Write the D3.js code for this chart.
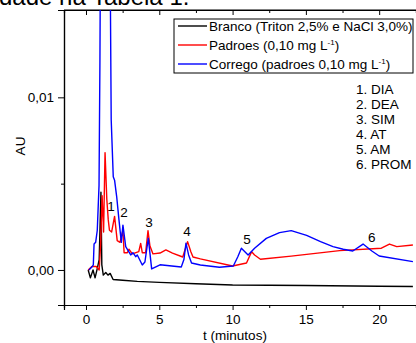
<!DOCTYPE html>
<html>
<head>
<meta charset="utf-8">
<script src="https://cdn.jsdelivr.net/npm/d3@7"></script>
<style>
  body { margin: 0; background: #fff; }
  svg { display: block; font-family: 'Liberation Sans', Arial, sans-serif; }
</style>
</head>
<body>
<div id="chart"></div>
<script>
// series: [t (min), AU]
const branco = [
  [0.15, 0.0], [0.3, -0.00046], [0.48, 0.0], [0.62, -0.00046], [0.78, 0.00012],
  [0.9, 0.0006], [1.02, 0.0045], [1.08, 0.0003], [1.18, -0.0003], [1.35, -0.00015],
  [1.5, -0.0003], [1.65, -0.0002], [1.85, -0.00055], [2.5, -0.0006], [3.5, -0.00066],
  [5, -0.00072], [7.5, -0.0008], [10, -0.00087], [15, -0.0009], [20, -0.00094], [22.3, -0.00096]
]
const padroes = [
  [0.15, 0.0], [0.4, 0.0002], [0.7, 0.0002], [0.9, 0.0], [1.0, 0.0015], [1.1, 0.0043],
  [1.2, 0.0022], [1.3, 0.0068], [1.42, 0.0041], [1.52, 0.0029], [1.6, 0.0023],
  [1.75, 0.0022], [1.95, 0.0031], [2.13, 0.0017], [2.32, 0.0016], [2.52, 0.0023],
  [2.6, 0.001], [2.82, 0.001], [2.93, 0.0012], [3.16, 0.00093], [3.6, 0.00106],
  [3.73, 0.00154], [3.84, 0.001], [4.07, 0.001], [4.23, 0.00228], [4.36, 0.0014],
  [4.57, 0.00093], [5.05, 0.00098], [5.45, 0.00116], [5.9, 0.00098], [6.6, 0.00075],
  [6.75, 0.00116], [6.93, 0.00164], [7.16, 0.00104], [7.3, 0.00075], [7.8, 0.00064],
  [10, 0.00023], [10.95, 0.0004], [11.3, 0.00106], [11.5, 0.00087], [11.9, 0.00062],
  [14, 0.0008], [17.3, 0.00112], [20.15, 0.00126], [20.7, 0.0015], [21.2, 0.00135],
  [22.3, 0.00145]
]
const corrego = [
  [0.2, 0.0], [0.43, 0.0002], [0.5, 0.0003], [0.55, 0.0015], [0.66, 0.0016],
  [0.77, 0.0023], [0.89, 0.0049], [0.95, 0.012], [1.05, 0.03], [1.55, 0.03],
  [1.72, 0.0087], [1.86, 0.0054], [1.95, 0.0052], [2.1, 0.0042], [2.25, 0.0029],
  [2.41, 0.0016], [2.52, 0.0026], [2.71, 0.00135], [3.05, 0.00087], [3.2, 0.001],
  [3.39, 0.00077], [3.5, 0.00087], [3.84, 0.00029], [4.02, 0.00046], [4.25, 0.00184],
  [4.48, 0.00006], [5.05, 0.0003], [6.5, 0.00017], [6.68, 0.0006], [6.82, 0.00155],
  [7.0, 0.00087], [7.2, 0.0004], [7.8, 0.00029], [9.1, 0.00016], [10.05, 0.00023],
  [10.35, 0.00075], [10.6, 0.00126], [11.06, 0.00087], [11.5, 0.00126], [12.3, 0.00183],
  [13.2, 0.00216], [14.0, 0.00228], [15.05, 0.002], [16.0, 0.00164], [16.85, 0.00135],
  [17.55, 0.0012], [18.2, 0.0011], [18.9, 0.0015], [19.5, 0.0011], [20.0, 0.00081],
  [22.3, 0.00048]
]

const legendNames = ['Branco (Triton 2,5% e NaCl 3,0%)', 'Padroes (0,10 mg L', 'Corrego (padroes 0,10 mg L']
const colors = ['#000000', '#ff0000', '#0000ff']
const compounds = ['1. DIA', '2. DEA', '3. SIM', '4. AT', '5. AM', '6. PROM']
const peakLabels = [
  { t: 1.7, au: 0.00342, label: '1' },
  { t: 2.6, au: 0.00307, label: '2' },
  { t: 4.3, au: 0.00249, label: '3' },
  { t: 6.89, au: 0.00197, label: '4' },
  { t: 10.98, au: 0.0015, label: '5' },
  { t: 19.5, au: 0.00162, label: '6' },
]
const xTicks = [0, 5, 10, 15, 20]
const yTicks = [0, 0.01]

const W = 416
const H = 343
const margin = { top: 10, right: -1, bottom: 38, left: 64 }
const fs = 13.5

const svg = d3.select('#chart').append('svg').attr('width', W).attr('height', H)

// partial heading from the page above the figure
svg.append('text').attr('x', -1).attr('y', 5).attr('font-size', 24).text('dade na Tabela 1.')

const xScale = d3.scaleLinear().domain([-1.5, 22.58]).range([margin.left, W - margin.right])
const yScale = d3.scaleLinear().domain([-0.00203, 0.01506]).range([H - margin.bottom, margin.top])

const fmt = (d) => d3.format('.2f')(d).replace('.', ',')

// axes
const xAxis = svg.append('g').attr('transform', `translate(0,${H - margin.bottom})`)
  .call(d3.axisBottom(xScale).tickValues(xTicks).tickSize(5).tickPadding(4).tickFormat(d3.format('d')))
xAxis.append('g').call(d3.axisBottom(xScale).tickValues(d3.range(2.5, 23, 5)).tickSize(3).tickFormat(''))

const xTop = svg.append('g').attr('transform', `translate(0,${margin.top})`)
  .call(d3.axisBottom(xScale).tickValues(xTicks).tickSize(5).tickFormat(''))
xTop.append('g').call(d3.axisBottom(xScale).tickValues(d3.range(2.5, 23, 5)).tickSize(3).tickFormat(''))

const yAxis = svg.append('g').attr('transform', `translate(${margin.left},0)`)
  .call(d3.axisLeft(yScale).tickValues(yTicks).tickSize(6).tickPadding(4).tickFormat(fmt))
yAxis.append('g').call(d3.axisLeft(yScale).tickValues([0.005]).tickSize(3).tickFormat(''))

svg.selectAll('.domain').attr('stroke', '#000').attr('stroke-width', 1.2)
svg.selectAll('.tick line').attr('stroke', '#000')
svg.selectAll('.tick text').attr('font-size', fs).attr('fill', '#000')
  .attr('font-family', "'Liberation Sans', Arial, sans-serif")
xTop.select('.domain').attr('d', `M${margin.left},0H${W}`)

// axis titles
svg.append('text').attr('x', 235).attr('y', 340).attr('text-anchor', 'middle')
  .attr('font-size', fs).text('t (minutos)')
svg.append('text').attr('transform', 'translate(25,146) rotate(-90)')
  .attr('text-anchor', 'middle').attr('font-size', fs).text('AU')

// lines
svg.append('clipPath').attr('id', 'clip').append('rect')
  .attr('x', margin.left).attr('y', margin.top)
  .attr('width', W - margin.left).attr('height', H - margin.bottom - margin.top)

const line = d3.line().x((d) => xScale(d[0])).y((d) => yScale(d[1]))
const plot = svg.append('g').attr('clip-path', 'url(#clip)')
;[branco, padroes, corrego].forEach((s, i) => {
  plot.append('path').datum(s).attr('fill', 'none').attr('stroke', colors[i])
    .attr('stroke-width', 1.4).attr('stroke-linejoin', 'round').attr('d', line)
})

// peak numbers
peakLabels.forEach(({ t, au, label }) => {
  svg.append('text').attr('x', xScale(t)).attr('y', yScale(au)).attr('text-anchor', 'middle')
    .attr('font-size', fs).text(label)
})

// compound list
compounds.forEach((c, i) => {
  svg.append('text').attr('x', 356).attr('y', 94 + i * 15).attr('font-size', fs).text(c)
})

// legend
const lg = svg.append('g')
lg.append('rect').attr('x', 174).attr('y', 19).attr('width', 239).attr('height', 54)
  .attr('fill', '#fff').attr('stroke', '#000').attr('stroke-width', 1)
legendNames.forEach((name, i) => {
  const y = 26 + i * 19
  lg.append('line').attr('x1', 178).attr('x2', 207).attr('y1', y).attr('y2', y)
    .attr('stroke', colors[i]).attr('stroke-width', 1.4)
  const t = lg.append('text').attr('x', 209).attr('y', y + 5).attr('font-size', fs).text(name)
  if (i > 0) {
    t.append('tspan').attr('dy', -5).attr('font-size', 8).text('-1')
    t.append('tspan').attr('dy', 5).text(')')
  }
})
</script>
</body>
</html>
